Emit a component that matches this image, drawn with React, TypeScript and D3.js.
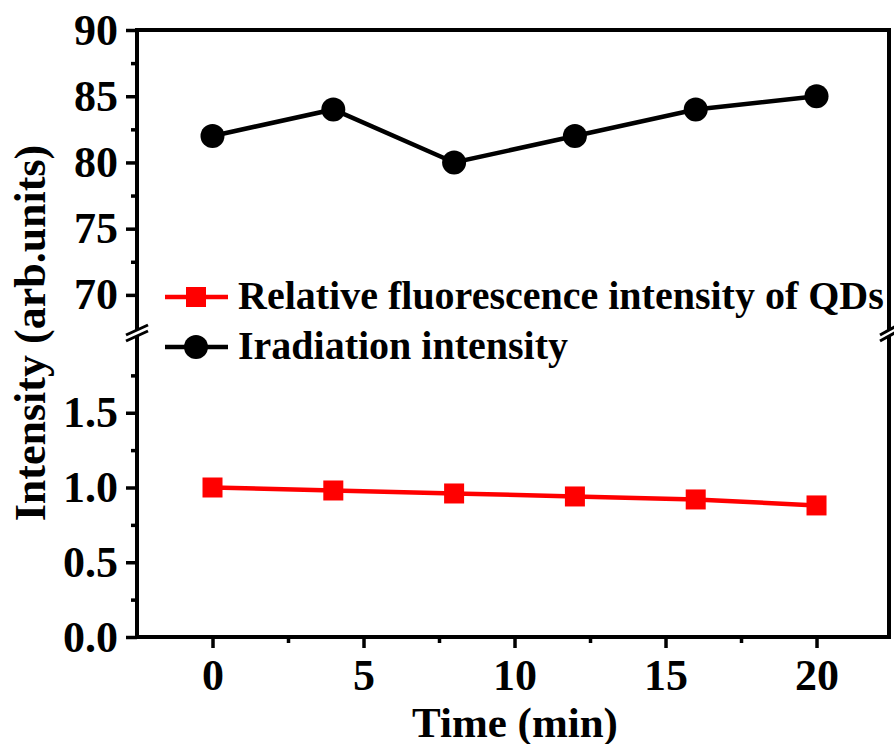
import { useEffect, useRef } from "react";
import * as d3 from "d3";

// data
const times = [0, 4, 8, 12, 16, 20];
const irradiation = [82, 84, 80, 82, 84, 85];
const relativeFluo = [1.0, 0.98, 0.96, 0.94, 0.92, 0.88];
const xTicks = [0, 5, 10, 15, 20];
const xMinor = [2.5, 7.5, 12.5, 17.5];
const upperTicks = [70, 75, 80, 85, 90];
const upperMinor = [72.5, 77.5, 82.5, 87.5];
const lowerTicks = [0, 0.5, 1.0, 1.5];
const lowerMinor = [0.25, 0.75, 1.25, 1.75];
const legendLabels = ["Relative fluorescence intensity of QDs", "Iradiation intensity"];

const W = 894;
const H = 744;
const FONT = "'Liberation Serif', 'Times New Roman', serif";

const App = () => {
  const svgRef = useRef<SVGSVGElement | null>(null);

  useEffect(() => {
    const svg = d3.select(svgRef.current);
    svg.selectAll("*").remove();

    const left = 137, right = 889, top = 30, bottom = 637;
    const breakY = 333;

    const x = d3.scaleLinear().domain([-2.5, 22.4]).range([left, right]);
    const yUp = d3.scaleLinear().domain([67.5, 90]).range([328, top]);
    const yLo = d3.scaleLinear().domain([0, 2]).range([bottom, 338]);

    const g = svg.append("g");

    ///////////////////////// ticks ////////////////////////////////
    const styleAxis = (sel: any) => {
      sel.select(".domain").remove();
      sel.selectAll("line").attr("stroke", "#000").attr("stroke-width", 3.5);
      sel.selectAll("text")
        .attr("font-family", FONT)
        .attr("font-weight", "bold")
        .attr("font-size", 44)
        .attr("fill", "#000");
    };

    g.append("g")
      .attr("transform", `translate(${left},0)`)
      .call(d3.axisLeft(yUp).tickValues(upperTicks).tickSize(11).tickPadding(8).tickFormat(d3.format("d")))
      .call(styleAxis);
    g.append("g")
      .attr("transform", `translate(${left},0)`)
      .call(d3.axisLeft(yUp).tickValues(upperMinor).tickSize(6).tickFormat(() => ""))
      .call(styleAxis);
    g.append("g")
      .attr("transform", `translate(${left},0)`)
      .call(d3.axisLeft(yLo).tickValues(lowerTicks).tickSize(11).tickPadding(8).tickFormat(d3.format(".1f")))
      .call(styleAxis);
    g.append("g")
      .attr("transform", `translate(${left},0)`)
      .call(d3.axisLeft(yLo).tickValues(lowerMinor).tickSize(6).tickFormat(() => ""))
      .call(styleAxis);
    g.append("g")
      .attr("transform", `translate(0,${bottom})`)
      .call(d3.axisBottom(x).tickValues(xTicks).tickSize(11).tickPadding(11).tickFormat(d3.format("d")))
      .call(styleAxis);
    g.append("g")
      .attr("transform", `translate(0,${bottom})`)
      .call(d3.axisBottom(x).tickValues(xMinor).tickSize(6).tickFormat(() => ""))
      .call(styleAxis);

    ///////////////////////// frame ////////////////////////////////
    g.append("rect")
      .attr("x", left)
      .attr("y", top)
      .attr("width", right - left)
      .attr("height", bottom - top)
      .attr("fill", "none")
      .attr("stroke", "#000")
      .attr("stroke-width", 4);

    // axis breaks "//"
    [left, right].forEach((bx) => {
      const gap = 3;
      const half = right === bx ? 9 : 11;
      g.append("polygon")
        .attr("points", [
          [bx - half, breakY - gap + 5],
          [bx + half, breakY - gap - 5],
          [bx + half, breakY + gap - 5],
          [bx - half, breakY + gap + 5],
        ].map((p) => p.join(",")).join(" "))
        .attr("fill", "#fff");
      [-gap, gap].forEach((o) => {
        g.append("line")
          .attr("x1", bx - half)
          .attr("y1", breakY + o + 5)
          .attr("x2", bx + half)
          .attr("y2", breakY + o - 5)
          .attr("stroke", "#000")
          .attr("stroke-width", 3);
      });
    });

    ///////////////////////// series ////////////////////////////////
    const upLine = d3.line<number>().x((d, i) => x(times[i])).y((d) => yUp(d));
    const loLine = d3.line<number>().x((d, i) => x(times[i])).y((d) => yLo(d));

    g.append("path")
      .attr("d", upLine(irradiation))
      .attr("fill", "none")
      .attr("stroke", "#000")
      .attr("stroke-width", 4.5);
    g.selectAll(".dot")
      .data(irradiation)
      .enter()
      .append("circle")
      .attr("class", "dot")
      .attr("cx", (d, i) => x(times[i]))
      .attr("cy", (d) => yUp(d))
      .attr("r", 12)
      .attr("fill", "#000");

    g.append("path")
      .attr("d", loLine(relativeFluo))
      .attr("fill", "none")
      .attr("stroke", "#f00")
      .attr("stroke-width", 4.5);
    g.selectAll(".sq")
      .data(relativeFluo)
      .enter()
      .append("rect")
      .attr("class", "sq")
      .attr("x", (d, i) => x(times[i]) - 10)
      .attr("y", (d) => yLo(d) - 10)
      .attr("width", 20)
      .attr("height", 20)
      .attr("fill", "#f00");

    ///////////////////////// legend ////////////////////////////////
    const legY = [297, 347];
    const legColors = ["#f00", "#000"];
    legendLabels.forEach((label, i) => {
      g.append("line")
        .attr("x1", 165)
        .attr("x2", 228)
        .attr("y1", legY[i])
        .attr("y2", legY[i])
        .attr("stroke", legColors[i])
        .attr("stroke-width", 4.5);
      if (i === 0) {
        g.append("rect")
          .attr("x", 186)
          .attr("y", legY[i] - 10)
          .attr("width", 20)
          .attr("height", 20)
          .attr("fill", "#f00");
      } else {
        g.append("circle").attr("cx", 196).attr("cy", legY[i]).attr("r", 12).attr("fill", "#000");
      }
      g.append("text")
        .attr("x", 238)
        .attr("y", legY[i] + 12)
        .attr("font-family", FONT)
        .attr("font-weight", "bold")
        .attr("font-size", 40)
        .text(label);
    });

    ///////////////////////// titles ////////////////////////////////
    g.append("text")
      .attr("x", 515)
      .attr("y", 737)
      .attr("text-anchor", "middle")
      .attr("font-family", FONT)
      .attr("font-weight", "bold")
      .attr("font-size", 43)
      .text("Time (min)");

    g.append("text")
      .attr("transform", "translate(45,333) rotate(-90)")
      .attr("text-anchor", "middle")
      .attr("font-family", FONT)
      .attr("font-weight", "bold")
      .attr("font-size", 44)
      .text("Intensity (arb.units)");
  }, []);

  return (
    <svg
      ref={svgRef}
      width={W}
      height={H}
      style={{ position: "absolute", left: 0, top: 0, background: "#fff" }}
    ></svg>
  );
};

export default App;
